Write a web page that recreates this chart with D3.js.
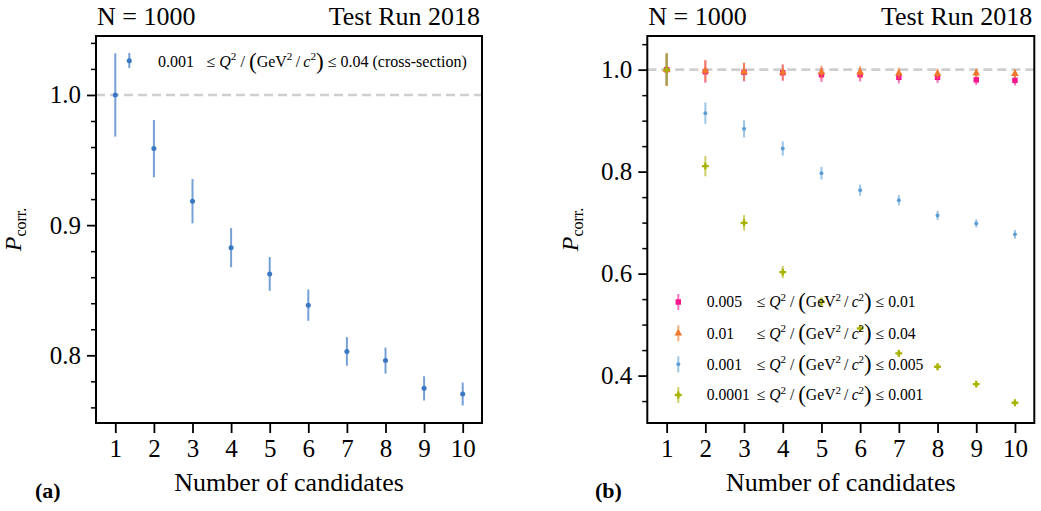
<!DOCTYPE html>
<html><head><meta charset="utf-8">
<script src="https://cdn.jsdelivr.net/npm/d3@7"></script>
<style>body{margin:0;background:#fff}svg{display:block}</style>
</head><body>
<svg id="chart" width="1041" height="511"></svg>
<script>
// ---------------- data ----------------
const candidates = [1,2,3,4,5,6,7,8,9,10];

// panel (a): cross-section
const crossVals = [1.000, 0.9588, 0.9184, 0.8827, 0.8625, 0.8385, 0.8030, 0.7960, 0.7746, 0.7703];
const crossErr  = [0.032, 0.022, 0.017, 0.015, 0.013, 0.012, 0.011, 0.010, 0.0093, 0.0088];

// panel (b): Q2 bins
const pinkVals   = [1.000, 0.996, 0.995, 0.994, 0.990, 0.990, 0.985, 0.985, 0.980, 0.979];
const pinkErr    = [0.032, 0.022, 0.018, 0.016, 0.014, 0.013, 0.012, 0.011, 0.010, 0.010];
const orangeVals = [1.000, 0.998, 0.996, 0.995, 0.995, 0.995, 0.993, 0.992, 0.993, 0.992];
const orangeErr  = [0.032, 0.021, 0.018, 0.015, 0.013, 0.012, 0.011, 0.010, 0.009, 0.009];
const blueVals   = [1.000, 0.9147, 0.884, 0.8454, 0.797, 0.7637, 0.744, 0.714, 0.6984, 0.677];
const blueErr    = [0.030, 0.021, 0.017, 0.014, 0.0125, 0.011, 0.010, 0.009, 0.008, 0.0085];
const yellowVals = [1.000, 0.8108, 0.6997, 0.603, 0.5447, 0.4925, 0.4435, 0.4173, 0.3833, 0.3467];
const yellowErr  = [0.032, 0.020, 0.015, 0.012, 0.009, 0.007, 0.007, 0.006, 0.006, 0.005];

const legendLowers = ["0.005", "0.01", "0.001", "0.0001"];
const legendUppers = ["0.01", "0.04", "0.005", "0.001"];

const xTickValues = [1,2,3,4,5,6,7,8,9,10];
const leftYMajor = [0.8, 0.9, 1.0];
const leftYMinor = [0.76, 0.78, 0.82, 0.84, 0.86, 0.88, 0.92, 0.94, 0.96, 0.98, 1.02, 1.04];
const rightYMajor = [0.4, 0.6, 0.8, 1.0];
const rightYMinor = [0.35, 0.45, 0.5, 0.55, 0.65, 0.7, 0.75, 0.85, 0.9, 0.95, 1.05];

// ---------------- drawing ----------------
const FONT = "'Liberation Serif','Times New Roman',Times,serif";
const svg = d3.select("#chart").style("font-family", FONT);

const panels = [
  {x: d3.scaleLinear([0.5, 10.5], [96, 482]),     y: d3.scaleLinear([0.748, 1.0453], [423, 36]),
   major: leftYMajor, minor: leftYMinor, fmt: d3.format(".1f"), ylabX: 21, tag: "(a)", tagX: 35},
  {x: d3.scaleLinear([0.5, 10.5], [647.3, 1034.3]), y: d3.scaleLinear([0.307, 1.066], [423, 36]),
   major: rightYMajor, minor: rightYMinor, fmt: d3.format(".1f"), ylabX: 578, tag: "(b)", tagX: 595}
];

function mathText(g, x, y, size, segs, anchor) {
  const t = g.append("text").attr("x", x).attr("y", y).attr("font-size", size)
    .attr("text-anchor", anchor || "start").attr("fill", "#000");
  let cur = 0;
  segs.forEach(s => {
    const o = s[1] || {};
    const sh = (o.shift || 0) * size;
    const ts = t.append("tspan").text(s[0]).attr("dy", sh - cur);
    cur = sh;
    if (o.italic) ts.attr("font-style", "italic");
    if (o.scale) ts.attr("font-size", size * o.scale);
  });
  return t;
}

function qSegs(upper) {
  return [
    ["≤ "], ["Q", {italic: true}], ["2", {scale: 0.7, shift: -0.42}], [" / "],
    ["(", {scale: 1.45, shift: 0.1}], ["GeV"], ["2", {scale: 0.7, shift: -0.42}],
    ["\u2009/\u2009"], ["c", {italic: true}], ["2", {scale: 0.7, shift: -0.42}],
    [")", {scale: 1.45, shift: 0.1}], [" ≤ " + upper]
  ];
}

panels.forEach((p, i) => {
  const g = svg.append("g");
  const [x0, x1] = p.x.range();
  const [yb, yt] = p.y.range();

  g.append("line").attr("x1", x0).attr("x2", x1).attr("y1", p.y(1)).attr("y2", p.y(1))
    .attr("stroke", "#cfcfcf").attr("stroke-width", 2.6).attr("stroke-dasharray", "9,5");

  const xa = g.append("g").attr("transform", `translate(0,${yb})`)
    .call(d3.axisBottom(p.x).tickValues(xTickValues).tickSize(10).tickPadding(6).tickFormat(d3.format("d")));
  xa.select(".domain").remove();
  xa.selectAll(".tick line").attr("stroke-width", 1.8);
  xa.selectAll("text").attr("font-size", 25).attr("font-family", FONT).attr("fill", "#000");

  const ya = g.append("g").attr("transform", `translate(${x0},0)`)
    .call(d3.axisLeft(p.y).tickValues(p.major).tickSize(9).tickPadding(6).tickFormat(p.fmt));
  ya.select(".domain").remove();
  ya.selectAll(".tick line").attr("stroke-width", 1.8);
  ya.selectAll("text").attr("font-size", 25).attr("font-family", FONT).attr("fill", "#000");
  const ym = g.append("g").attr("transform", `translate(${x0},0)`)
    .call(d3.axisLeft(p.y).tickValues(p.minor).tickSize(5).tickFormat(""));
  ym.select(".domain").remove();
  ym.selectAll(".tick line").attr("stroke-width", 1.5);

  g.append("rect").attr("x", x0).attr("y", yt).attr("width", x1 - x0).attr("height", yb - yt)
    .attr("fill", "none").attr("stroke", "#000").attr("stroke-width", 2);

  g.append("text").attr("x", x0 + 1).attr("y", 25).attr("font-size", 26).text("N = 1000");
  g.append("text").attr("x", x1 - 2).attr("y", 25).attr("font-size", 26).attr("text-anchor", "end").text("Test Run 2018");

  g.append("text").attr("x", (x0 + x1) / 2).attr("y", 491).attr("font-size", 26)
    .attr("text-anchor", "middle").text("Number of candidates");
  const yl = g.append("text").attr("transform", `translate(${p.ylabX},${(yt + yb) / 2}) rotate(-90)`)
    .attr("text-anchor", "middle").attr("font-size", 24);
  yl.append("tspan").attr("font-style", "italic").text("P");
  yl.append("tspan").attr("font-size", 16).attr("dy", 5).text("corr.");
  g.append("text").attr("x", p.tagX).attr("y", 498).attr("font-size", 22).attr("font-weight", "bold").text(p.tag);
});

function errSeries(p, vals, errs, color, marker, opacity) {
  const g = svg.append("g");
  g.selectAll("line").data(candidates).join("line")
    .attr("x1", (d) => p.x(d)).attr("x2", (d) => p.x(d))
    .attr("y1", (d, i) => p.y(vals[i] - errs[i])).attr("y2", (d, i) => p.y(vals[i] + errs[i]))
    .attr("stroke", color).attr("stroke-width", 2).attr("stroke-opacity", opacity);
  g.selectAll("path").data(candidates).join("path")
    .attr("transform", (d, i) => `translate(${p.x(d)},${p.y(vals[i])})`)
    .attr("d", marker).attr("fill", color);
}

const L = panels[0], R = panels[1];
const blueA = "#3a78c4";
const mkCircle = d3.symbol(d3.symbolCircle, 20)();
errSeries(L, crossVals, crossErr, blueA, mkCircle, 0.7);

const cols = ["#f5158d", "#f07a2c", "#5c9ed4", "#a8b300"];
const mks = [
  d3.symbol(d3.symbolSquare, 30)(),
  d3.symbol(d3.symbolTriangle, 26)(),
  d3.symbol(d3.symbolCircle, 12)(),
  d3.symbol(d3.symbolCross, 26)()
];
const rVals = [pinkVals, orangeVals, blueVals, yellowVals];
const rErrs = [pinkErr, orangeErr, blueErr, yellowErr];
rVals.forEach((v, k) => errSeries(R, v, rErrs[k], cols[k], mks[k], 0.6));

const lg = svg.append("g");
lg.append("line").attr("x1", 129.3).attr("x2", 129.3).attr("y1", 53).attr("y2", 68)
  .attr("stroke", blueA).attr("stroke-width", 2).attr("stroke-opacity", 0.7);
lg.append("path").attr("transform", "translate(129.3,60.7)").attr("d", mkCircle).attr("fill", blueA);
mathText(lg, 158, 67, 16, [["0.001"]]);
mathText(lg, 206.5, 67, 16, qSegs("0.04").concat([[" (cross-section)"]]));

const rowY = [302, 333.3, 364.3, 395];
legendLowers.forEach((lo, k) => {
  const y = rowY[k];
  lg.append("line").attr("x1", 678.3).attr("x2", 678.3).attr("y1", y - 8).attr("y2", y + 8)
    .attr("stroke", cols[k]).attr("stroke-width", 2).attr("stroke-opacity", 0.6);
  lg.append("path").attr("transform", `translate(678.3,${y})`).attr("d", mks[k]).attr("fill", cols[k]);
  const t = mathText(lg, 706.7, y + 5.3, 15.7, [[lo]]);
  const w = t.node().getComputedTextLength();
  mathText(lg, 706.7 + Math.max(50, w + 1), y + 5.3, 15.7, qSegs(legendUppers[k]));
});
</script>
</body></html>
